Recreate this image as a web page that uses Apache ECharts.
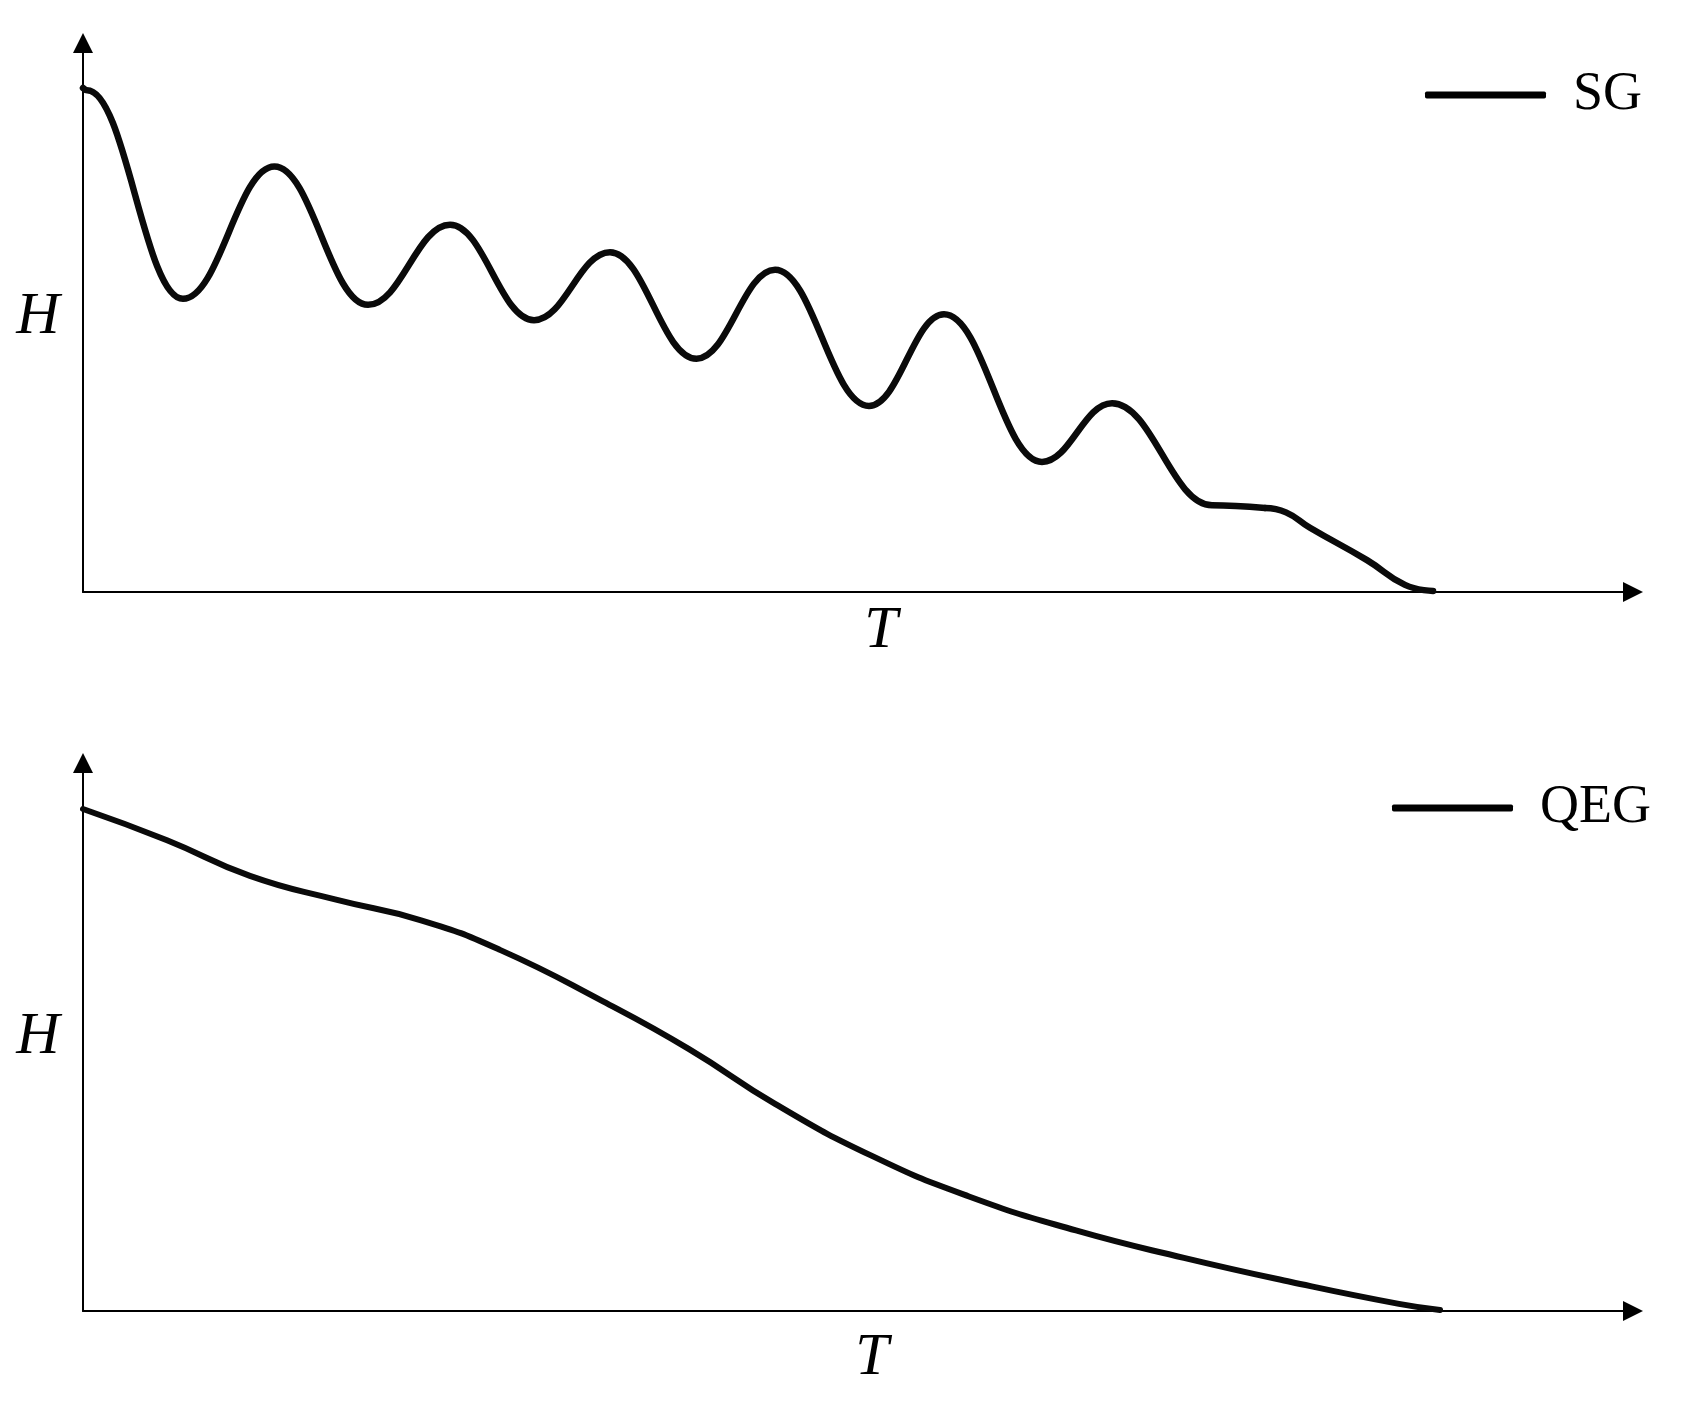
<!DOCTYPE html>
<html>
<head>
<meta charset="utf-8">
<script src="https://cdn.jsdelivr.net/npm/echarts@6/dist/echarts.min.js"></script>
<style>
html,body{margin:0;padding:0;background:#fff;}
#chart{width:1688px;height:1411px;}
</style>
</head>
<body>
<div id="chart"></div>
<script>
// SG curve (top panel): oscillating part, turning points (T, H)
var sgT = [0, 0.26, 6.45, 12.35, 18.39, 23.68, 29.10, 34.0, 39.58, 44.65, 50.71, 55.55, 61.87, 66.39, 72.84, 76.26];
var sgH = [91.8, 91.4, 53.4, 77.5, 52.3, 66.9, 49.5, 61.9, 42.5, 58.7, 33.9, 50.6, 23.7, 34.4, 15.8, 15.3];
// SG curve: final decline after the shoulder (continues from the last point above)
var sgTailT = [76.26, 77.61, 79.16, 82.84, 85.29, 87.1];
var sgTailH = [15.3, 14.5, 11.7, 5.8, 1.3, 0.2];

// QEG curve (bottom panel)
var qegT = [0, 5.42, 10.77, 16.26, 21.81, 26.90, 33.55, 39.10, 44.65, 50.90, 57.16, 64.06, 71.03, 77.94, 84.90, 87.55];
var qegH = [91.6, 85.9, 79.4, 75.1, 71.3, 65.9, 56.5, 47.8, 37.8, 28.3, 20.9, 14.7, 9.7, 5.3, 1.3, 0.2];

var seriesNames = ['SG', 'QEG'];
var xName = 'T';
var yName = 'H';

function pairs(xs, ys) { return xs.map(function (x, i) { return [x, ys[i]]; }); }

var axisLine = {
  show: true, onZero: false,
  symbol: ['none', 'triangle'], symbolSize: [20, 20],
  lineStyle: { color: '#000', width: 2 }
};
var nameFont = { fontFamily: 'Liberation Serif', fontStyle: 'italic', fontSize: 60, color: '#000' };

function xAxis(gi, gap, shift) {
  return {
    type: 'value', gridIndex: gi, min: 0, max: 100,
    axisLine: axisLine, axisTick: { show: false }, axisLabel: { show: false }, splitLine: { show: false },
    name: xName, nameLocation: 'middle', nameGap: gap,
    nameTextStyle: Object.assign({ align: 'center', verticalAlign: 'middle', padding: [0, 0, 0, shift] }, nameFont)
  };
}
function yAxis(gi) {
  return {
    type: 'value', gridIndex: gi, min: 0, max: 100,
    axisLine: axisLine, axisTick: { show: false }, axisLabel: { show: false }, splitLine: { show: false },
    name: yName, nameLocation: 'middle', nameGap: 45, nameRotate: 0,
    nameTextStyle: Object.assign({ align: 'center', verticalAlign: 'middle' }, nameFont)
  };
}
var legendText = { fontFamily: 'Liberation Serif', fontSize: 54, color: '#000', lineHeight: 56, padding: [0, 0, 0, 22] };
var sgLine = { color: '#0a0a0a', width: 6.5, cap: 'round', join: 'round' };

var option = {
  backgroundColor: '#fff',
  animation: false,
  grid: [
    { left: 83, right: 55, top: 43, height: 549 },
    { left: 83, right: 55, top: 763, height: 548 }
  ],
  legend: [
    { data: [seriesNames[0]], left: 1425, top: 67, icon: 'roundRect', itemWidth: 121, itemHeight: 7,
      itemStyle: { color: '#000' }, textStyle: legendText, padding: 0 },
    { data: [seriesNames[1]], left: 1392, top: 780, icon: 'roundRect', itemWidth: 121, itemHeight: 7,
      itemStyle: { color: '#000' }, textStyle: legendText, padding: 0 }
  ],
  xAxis: [xAxis(0, 39, 46), xAxis(1, 47, 28)],
  yAxis: [yAxis(0), yAxis(1)],
  series: [
    { name: seriesNames[0], type: 'line', xAxisIndex: 0, yAxisIndex: 0, data: pairs(sgT, sgH),
      smooth: 0.4, smoothMonotone: 'x', symbol: 'none', color: '#000', lineStyle: sgLine },
    { name: seriesNames[0], type: 'line', xAxisIndex: 0, yAxisIndex: 0, data: pairs(sgTailT, sgTailH),
      smooth: 0.5, symbol: 'none', color: '#000', lineStyle: sgLine },
    { name: seriesNames[1], type: 'line', xAxisIndex: 1, yAxisIndex: 1, data: pairs(qegT, qegH),
      smooth: 0.5, symbol: 'none', color: '#000',
      lineStyle: { color: '#0a0a0a', width: 6, cap: 'round', join: 'round' } }
  ]
};
var chart = echarts.init(document.getElementById('chart'));
chart.setOption(option);
</script>
</body>
</html>
